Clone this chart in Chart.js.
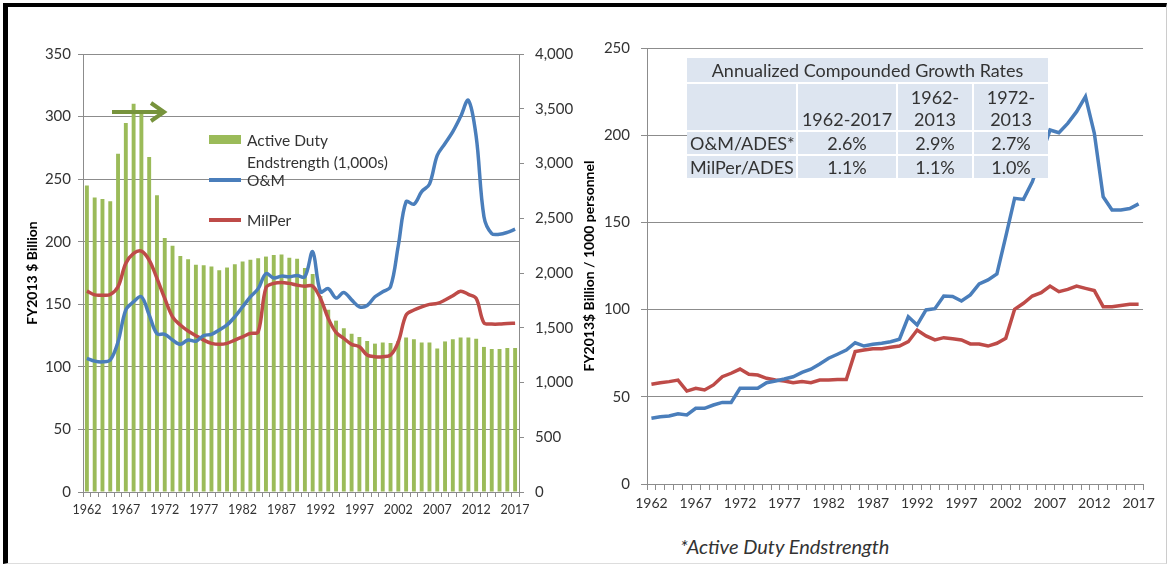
<!DOCTYPE html>
<html>
<head>
<meta charset="utf-8">
<script src="https://cdn.jsdelivr.net/npm/chart.js@4.4.1/dist/chart.umd.min.js"></script>
<style>
  body { margin: 0; background: #fff; font-family: Lato, sans-serif; }
  #wrap { position: relative; width: 1169px; height: 567px; overflow: hidden; }
  #frame { position: absolute; left: 3px; top: 3px; width: 1158px; height: 556px;
    border-top: 4px solid #000; border-left: 5px solid #000; border-right: 1px solid #ccc; border-bottom: 1px solid #ddd; }
  canvas { position: absolute; top: 0; }
  #c1 { left: 0; }
  #c2 { left: 560px; }
  .lg { position: absolute; font-size: 15.5px; line-height: 22px; color: #333; }
  .sw { position: absolute; }
  #growth { position: absolute; left: 687px; top: 58px; width: 361px; border-collapse: collapse;
    font-size: 18px; color: #333; table-layout: fixed; }
  #growth td { background: #dde5f0; border: 2px solid #fff; padding: 0 3px; text-align: center; line-height: 22px; white-space: nowrap; }
  #growth tr:first-child td { border-top: none; }
  #growth td:first-child { border-left: none; }
  #growth td:last-child { border-right: none; }
  #growth tr:last-child td { border-bottom: none; }
  #note { position: absolute; left: 680px; top: 534px; font-size: 20px; font-style: italic; color: #333; }
</style>
</head>
<body>
<div id="wrap">
  <div id="frame"></div>
  <canvas id="c1" width="590" height="520"></canvas>
  <canvas id="c2" width="600" height="520"></canvas>

  <div class="sw" style="left:209px;top:135px;width:32px;height:9px;background:#9bbb59"></div>
  <div class="lg" style="left:247px;top:129px">Active Duty<br>Endstrength (1,000s)</div>
  <div class="sw" style="left:209px;top:178px;width:32px;height:4px;background:#4a7ebb"></div>
  <div class="lg" style="left:247px;top:169px">O&amp;M</div>
  <div class="sw" style="left:209px;top:218px;width:32px;height:4px;background:#be4b48"></div>
  <div class="lg" style="left:247px;top:209px">MilPer</div>

  <svg style="position:absolute;left:0;top:0" width="200" height="140">
    <line x1="112" y1="112" x2="162" y2="112" stroke="#77933c" stroke-width="4"/>
    <polyline points="151,103 164,112 151,121" fill="none" stroke="#77933c" stroke-width="4"/>
  </svg>

  <table id="growth">
    <colgroup><col style="width:110px"><col style="width:100px"><col style="width:76px"><col style="width:75px"></colgroup>
    <tr style="height:25px"><td colspan="4">Annualized Compounded Growth Rates</td></tr>
    <tr style="height:48px"><td></td><td style="vertical-align:bottom">1962-2017</td><td style="vertical-align:bottom">1962-<br>2013</td><td style="vertical-align:bottom">1972-<br>2013</td></tr>
    <tr style="height:24px"><td style="text-align:right">O&amp;M/ADES*</td><td>2.6%</td><td>2.9%</td><td>2.7%</td></tr>
    <tr style="height:23px"><td style="text-align:right">MilPer/ADES</td><td>1.1%</td><td>1.1%</td><td>1.0%</td></tr>
  </table>

  <div id="note">*Active Duty Endstrength</div>
</div>

<script>
const years = []
for (let y = 1962; y <= 2017; y++) years.push(y)

// Active duty endstrength, thousands (right axis, left chart)
const endstrength = [2800, 2690, 2675, 2655, 3090, 3370, 3545, 3465, 3060, 2710,
  2320, 2250, 2155, 2125, 2075, 2070, 2060, 2025, 2050, 2080,
  2105, 2120, 2135, 2150, 2165, 2170, 2140, 2130, 2045, 1990,
  1790, 1665, 1565, 1495, 1445, 1415, 1380, 1355, 1365, 1360,
  1380, 1410, 1395, 1365, 1365, 1310, 1375, 1395, 1410, 1410,
  1400, 1325, 1305, 1305, 1315, 1315]

// FY2013 $ billion
const omTotal = [106.8, 104.6, 104, 105.5, 120, 145.5, 152, 156, 141.5, 126.5,
  126, 121.5, 118, 121.5, 120.5, 125, 126, 129.5, 133.5, 140,
  148, 156, 162.5, 174.5, 171, 172.5, 172, 173, 172, 192,
  160, 162.5, 155, 159.5, 153.5, 148, 149, 156, 160, 164,
  197, 232, 230, 240, 246, 269, 278.5, 288, 300, 313,
  284, 220, 206.5, 206, 207.5, 210]

const milperTotal = [160.5, 157.5, 157.3, 157.8, 164, 182.7, 190.6, 192.5, 185.3, 170.7,
  154.7, 140, 133.4, 128.6, 124.9, 121.4, 118.8, 118, 118.8, 121.4,
  124, 126.7, 128, 163.2, 166.7, 167.5, 166.7, 165.3, 164.5, 164.5,
  154.7, 138.7, 127.5, 122.7, 118, 116.1, 109.4, 108.1, 108.1, 109.4,
  120, 141.4, 145.4, 148, 149.9, 150.7, 153.4, 156.8, 160.5, 157.9,
  154.7, 135.2, 134.2, 134.2, 134.7, 134.9]

// FY2013 $ billion per 1000 personnel
const omPerAdes = [37.7, 38.6, 39, 40.3, 39.6, 43.4, 43.4, 45.3, 46.8, 46.8,
  54.9, 54.9, 54.9, 58.1, 59.1, 60.2, 61.5, 64, 65.8, 68.8,
  72.1, 74.4, 76.8, 81, 79.1, 80.1, 80.7, 81.6, 83, 95.9,
  91.2, 99.8, 100.5, 107.8, 107.5, 104.9, 108.4, 114.7, 117, 120.5,
  141.8, 163.8, 163.2, 173.3, 188, 203, 201.4, 206.8, 213.5, 222.1,
  201.1, 164.7, 157.1, 157.1, 158, 160.6]

const milperPerAdes = [57.2, 58.1, 58.7, 59.6, 53.3, 54.9, 53.9, 56.8, 61.5, 63.5,
  65.9, 62.9, 62.5, 60.6, 59.6, 59.1, 58.1, 58.7, 58.1, 59.6,
  59.6, 59.9, 59.9, 75.9, 76.8, 77.6, 77.6, 78.4, 79.1, 81.6,
  88.3, 84.9, 82.6, 83.9, 83.3, 82.6, 80.3, 80.3, 79.1, 80.7,
  83.5, 100.2, 103.6, 107.8, 109.7, 113.5, 110.3, 111.6, 113.5, 112.2,
  110.9, 101.7, 101.7, 102.3, 103, 103]

const blue = '#4a7ebb'
const red = '#be4b48'
const gridCol = '#8c8c8c'
Chart.defaults.font.family = 'Lato, sans-serif'
Chart.defaults.color = '#333'

const every5 = function(v, i){ return (i % 5 === 0) ? years[i] : '' }

new Chart('c1', {
  type: 'bar',
  data: {
    labels: years,
    datasets: [
      {type: 'line', label: 'O&M', data: omTotal, yAxisID: 'y', borderColor: blue, borderWidth: 3.5,
        pointRadius: 0, tension: 0.35, order: 1},
      {type: 'line', label: 'MilPer', data: milperTotal, yAxisID: 'y', borderColor: red, borderWidth: 3.5,
        pointRadius: 0, tension: 0.35, order: 1},
      {type: 'bar', label: 'Active Duty Endstrength (1,000s)', data: endstrength, yAxisID: 'y2',
        backgroundColor: '#9bbb59', barPercentage: 0.5, categoryPercentage: 1, order: 2}
    ]
  },
  options: {
    responsive: false,
    animation: false,
    events: [],
    layout: {padding: {top: 54, left: 24, right: 11, bottom: 0}},
    plugins: {legend: {display: false}, tooltip: {enabled: false}},
    scales: {
      x: {
        offset: true,
        grid: {offset: true, drawOnChartArea: false, tickLength: 5, color: gridCol},
        border: {color: gridCol},
        ticks: {autoSkip: false, maxRotation: 0, padding: 5, font: {size: 12.5}, callback: every5},
        afterFit: s => { s.height = 28 }
      },
      y: {
        min: 0, max: 350,
        ticks: {stepSize: 50, padding: 7, font: {size: 15}},
        grid: {color: gridCol, tickLength: 5},
        border: {color: gridCol},
        title: {display: true, text: 'FY2013 $ Billion', color: '#000', padding: 0,
          font: {size: 14, weight: 'bold'}},
        afterFit: s => { s.width = 59 }
      },
      y2: {
        position: 'right',
        min: 0, max: 4000,
        ticks: {stepSize: 500, padding: 11, font: {size: 15},
          callback: v => v.toLocaleString('en-US')},
        grid: {drawOnChartArea: false, tickLength: 5, color: gridCol},
        border: {color: gridCol},
        afterFit: s => { s.width = 60 }
      }
    }
  }
})

new Chart('c2', {
  type: 'line',
  data: {
    labels: years,
    datasets: [
      {label: 'O&M/ADES', data: omPerAdes, borderColor: blue, borderWidth: 3.5, pointRadius: 0, tension: 0},
      {label: 'MilPer/ADES', data: milperPerAdes, borderColor: red, borderWidth: 3.5, pointRadius: 0, tension: 0}
    ]
  },
  options: {
    responsive: false,
    animation: false,
    events: [],
    layout: {padding: {top: 48, left: 21, right: 16, bottom: 0}},
    plugins: {legend: {display: false}, tooltip: {enabled: false}},
    scales: {
      x: {
        offset: true,
        grid: {offset: true, drawOnChartArea: false, tickLength: 6, color: gridCol},
        border: {color: gridCol},
        ticks: {autoSkip: false, maxRotation: 0, padding: 5, font: {size: 14}, callback: every5},
        afterFit: s => { s.height = 36 }
      },
      y: {
        min: 0, max: 250,
        ticks: {stepSize: 50, padding: 11, font: {size: 15}},
        grid: {color: gridCol, tickLength: 6},
        border: {color: gridCol},
        title: {display: true, text: 'FY2013$ Billion / 1000 personnel', color: '#000', padding: 0,
          font: {size: 14, weight: 'bold'}},
        afterFit: s => { s.width = 66 }
      }
    }
  }
})
</script>
</body>
</html>
